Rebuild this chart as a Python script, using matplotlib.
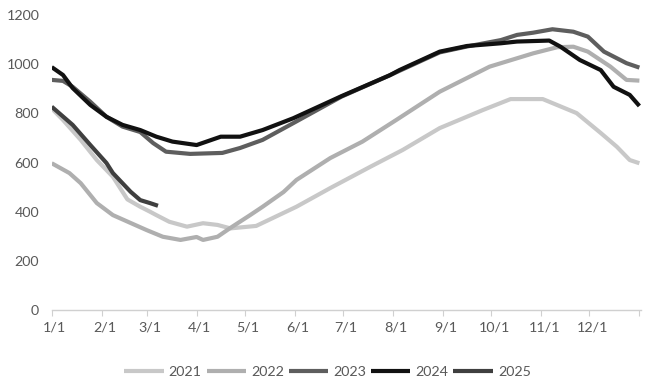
import matplotlib
matplotlib.use("Agg")
import matplotlib.pyplot as plt
import matplotlib.transforms as mtransforms

plt.rcParams['font.family'] = ['Lato', 'DejaVu Sans']

# x positions are day-of-year (0 = Jan 1)
month_starts = [0, 31, 59, 90, 120, 151, 181, 212, 243, 273, 304, 334, 365]
month_labels = ["1/1", "2/1", "3/1", "4/1", "5/1", "6/1", "7/1", "8/1", "9/1",
                "10/1", "11/1", "12/1", ""]

days_2021 = [0, 7, 18, 28, 38, 47, 55, 61, 65, 73, 84, 94, 103, 111, 127, 152,
             173, 198, 218, 241, 268, 285, 305, 326, 341, 351, 359, 365]
vals_2021 = [820, 773, 692, 610, 542, 450, 420, 400, 386, 359, 339, 353, 346,
             332, 342, 420, 496, 583, 651, 740, 814, 858, 858, 801, 720, 664,
             610, 597]

days_2022 = [0, 11, 18, 28, 38, 49, 59, 69, 80, 90, 94, 103, 111, 123, 131,
             144, 152, 173, 193, 214, 241, 272, 299, 314, 324, 333, 347, 357,
             365]
vals_2022 = [597, 557, 516, 435, 386, 354, 325, 298, 285, 297, 285, 298, 334,
             385, 420, 480, 529, 618, 685, 773, 888, 990, 1044, 1069, 1071,
             1051, 990, 936, 933]

days_2023 = [0, 7, 13, 24, 34, 44, 55, 63, 71, 86, 106, 117, 131, 150, 180,
             210, 241, 258, 279, 289, 299, 311, 324, 333, 343, 357, 365]
vals_2023 = [936, 932, 908, 847, 786, 746, 724, 679, 644, 635, 639, 659, 692,
             760, 868, 955, 1048, 1072, 1098, 1119, 1128, 1142, 1132, 1112,
             1051, 1004, 986]

days_2024 = [0, 7, 13, 24, 34, 44, 55, 65, 75, 90, 105, 117, 131, 150, 180,
             210, 216, 241, 258, 279, 289, 309, 316, 328, 341, 349, 359, 365]
vals_2024 = [988, 956, 903, 834, 786, 753, 732, 705, 685, 671, 705, 705, 732,
             780, 870, 955, 976, 1051, 1074, 1085, 1092, 1096, 1071, 1017, 976,
             908, 875, 830]

days_2025 = [0, 13, 24, 34, 38, 49, 55, 61, 66]
vals_2025 = [827, 753, 671, 598, 557, 481, 447, 435, 424]

series = [
    ("2021", days_2021, vals_2021, "#c8c8c8"),
    ("2022", days_2022, vals_2022, "#afafaf"),
    ("2023", days_2023, vals_2023, "#5e5e5e"),
    ("2024", days_2024, vals_2024, "#111111"),
    ("2025", days_2025, vals_2025, "#3f3f3f"),
]

W, H = 655, 382
fig = plt.figure(figsize=(W / 100, H / 100), dpi=100)
ax = fig.add_axes([51.7 / W, 1 - 310 / H, (641 - 51.7) / W, (310 - 15) / H])

for name, d, v, c in series:
    ax.plot(d, v, color=c, lw=3.0, label=name, solid_capstyle='butt',
            solid_joinstyle='round')

ax.set_xlim(0, 366)
ax.set_ylim(0, 1200)
ax.set_yticks([0, 200, 400, 600, 800, 1000, 1200])
ax.set_xticks(month_starts)
ax.set_xticklabels(month_labels)

for s in ["top", "right", "left"]:
    ax.spines[s].set_visible(False)
ax.spines["bottom"].set_color("#d0d0d0")
ax.spines["bottom"].set_linewidth(1.0)

ax.tick_params(axis="y", length=0, pad=9, labelsize=10.3, labelcolor="#595959")
ax.tick_params(axis="x", length=4, width=0.8, color="#d0d0d0", direction="out",
               pad=4, labelsize=10.3, labelcolor="#595959")

offset = mtransforms.ScaledTranslation(3 / 100, 0, fig.dpi_scale_trans)
for lbl in ax.get_xticklabels():
    lbl.set_transform(lbl.get_transform() + offset)

fig.legend(loc="center", bbox_to_anchor=(0.5, 1 - 372 / H), ncol=5,
           frameon=False, fontsize=10.3, handlelength=2.75, handletextpad=0.35,
           columnspacing=0.35, borderaxespad=0, labelcolor="#595959")

fig.savefig("out.png", dpi=100)
